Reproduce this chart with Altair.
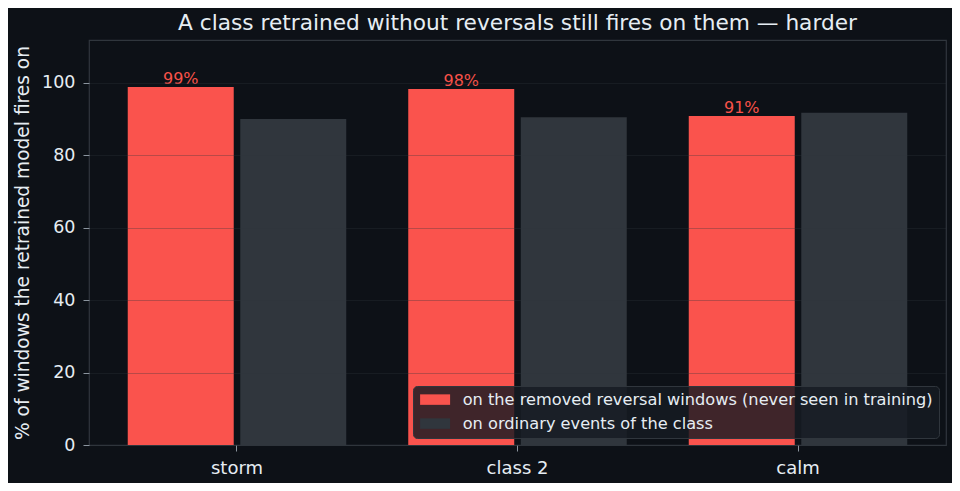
import altair as alt
import pandas as pd

categories = ["storm", "class 2", "calm"]
series = ["on the removed reversal windows (never seen in training)",
          "on ordinary events of the class"]
reversal_vals = [98.8, 98.3, 90.8]
ordinary_vals = [90.0, 90.5, 91.7]
colors = ["#fa534d", "#30363d"]

rows = []
for c, v in zip(categories, reversal_vals):
    rows.append({"cat": c, "series": series[0], "value": v, "label": f"{round(v)}%"})
for c, v in zip(categories, ordinary_vals):
    rows.append({"cat": c, "series": series[1], "value": v, "label": ""})
df = pd.DataFrame(rows)

BG = "#0d1117"
TXT = "#e6edf3"
EDGE = "#30363d"

x = alt.X("cat:N", sort=categories, title=None,
          scale=alt.Scale(paddingInner=0, paddingOuter=0.0276),
          axis=alt.Axis(labelAngle=0, labelFontSize=18, labelColor=TXT,
                        labelFont="DejaVu Sans", tickColor="#8b949e", tickSize=6,
                        labelPadding=8, domain=False, grid=False))
xoff = alt.XOffset("series:N", sort=series,
                   scale=alt.Scale(paddingInner=0.058, paddingOuter=0.2755))
y = alt.Y("value:Q", title="% of windows the retrained model fires on",
          scale=alt.Scale(domain=[0, 111.8], nice=False, zero=True),
          axis=alt.Axis(values=[0, 20, 40, 60, 80, 100], labelFontSize=17.5,
                        labelColor=TXT, labelFont="DejaVu Sans",
                        titleFont="DejaVu Sans", titleFontSize=18.6,
                        titleFontWeight="normal", titleColor=TXT,
                        titlePadding=9, tickColor="#8b949e", tickSize=6,
                        labelPadding=8, domain=False, gridColor=EDGE,
                        gridOpacity=0.4, gridWidth=0.8, zindex=1))

bars = alt.Chart(df).mark_bar().encode(
    x=x, xOffset=xoff, y=y,
    color=alt.Color("series:N", sort=series,
                    scale=alt.Scale(domain=series, range=colors),
                    legend=alt.Legend(title=None, orient="bottom-right",
                                      offset=7, fillColor="rgba(22,27,34,0.82)",
                                      strokeColor=EDGE, cornerRadius=4,
                                      padding=5.5, rowPadding=7,
                                      labelFont="DejaVu Sans", labelFontSize=16.2,
                                      labelColor=TXT, labelOffset=28,
                                      symbolType="M-0.867,-0.7H3.133V0.7H-0.867Z",
                                      symbolSize=225, symbolStrokeWidth=0,
                                      symbolOpacity=1, labelLimit=600)),
)

labels = alt.Chart(df).mark_text(baseline="alphabetic", dy=-3, fontSize=16,
                                 font="DejaVu Sans", color="#f85149").encode(
    x=alt.X("cat:N", sort=categories), xOffset=alt.XOffset("series:N", sort=series),
    y="value:Q", text="label:N")

chart = alt.layer(bars, labels).properties(
    width=857, height=405,
    autosize=alt.AutoSizeParams(type="none"),
    padding={"left": 81, "top": 32, "right": 6, "bottom": 38},
    background=BG,
    title=alt.TitleParams("A class retrained without reversals still fires on them — harder",
                          font="DejaVu Sans", fontSize=21.7, fontWeight="normal",
                          color=TXT, anchor="middle", baseline="alphabetic",
                          frame="group", offset=10, dy=22),
).configure_view(stroke=EDGE, strokeWidth=1.2, fill=BG)

chart.save("out.html", embed_options={"renderer": "svg", "actions": False})
